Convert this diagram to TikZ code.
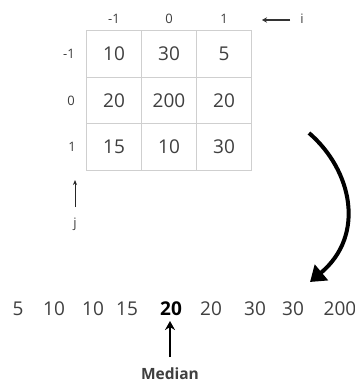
\documentclass[tikz,border=0pt]{standalone}
\usepackage{fontspec}
\setmainfont{Open Sans}
\usetikzlibrary{arrows.meta}
\definecolor{txt}{HTML}{3F3F3F}
\definecolor{gridc}{HTML}{CFCFCF}
\tikzset{
  cell/.style={draw=gridc, line width=0.8pt, minimum width=55pt, minimum height=46.5pt, inner sep=0pt, font=\fontsize{19}{20}\selectfont, text=txt},
  lab/.style={font=\fontsize{13}{14}\selectfont, text=txt, inner sep=0pt},
  num/.style={font=\fontsize{19}{20}\selectfont, text=txt, inner sep=0pt},
  thinarrow/.style={draw=black!85, line width=1pt, -{Stealth[length=5pt,width=4pt]}},
  iarrow/.style={draw=black!80, line width=2pt, -{Stealth[length=5pt,width=5.5pt]}},
}
\begin{document}
\begin{tikzpicture}[x=1pt,y=-1pt]
\useasboundingbox[fill=white] (0,0) rectangle (355,383);
% grid
\foreach \r in {0,1,2}{
  \foreach \c in {0,1,2}{
    \node[cell] (c\r\c) at ({114+55*\c},{54+46.5*\r}) {};
  }
}
\node[num] at (c00) {10}; \node[num] at (c01) {30}; \node[num] at (c02) {5};
\node[num] at (c10) {20}; \node[num] at (c11) {200}; \node[num] at (c12) {20};
\node[num] at (c20) {15}; \node[num] at (c21) {10}; \node[num] at (c22) {30};
% column labels
\node[lab] (h0) at (114,19) {-1};
\node[lab] (h1) at (169,19) {0};
\node[lab] (h2) at (224,19) {1};
% row labels
\node[lab] (r0) at (69,54) {-1};
\node[lab] (r1) at (71,100.5) {0};
\node[lab] (r2) at (72,147) {1};
% i arrow
\node[lab] (ilab) at (302,19) {i};
\coordinate (ia) at (290,20);
\coordinate (ib) at (262,20);
\draw[iarrow] (ia) -- (ib);
% j arrow
\node[lab] (jlab) at (75,224) {j};
\coordinate (ja) at (75,207);
\coordinate (jb) at (75,180);
\draw[thinarrow] (ja) -- (jb);
% curved arrow
\coordinate (ca) at (309,133);
\coordinate (cb) at (310,282);
\draw[line width=4pt, -{Triangle[length=15pt,width=20pt]}] (ca) .. controls (352,170) and (366,235) .. (cb);
% sorted list
\node[num] (s1) at (18,309) {5};
\node[num] (s2) at (54,309) {10};
\node[num] (s3) at (93,309) {10};
\node[num] (s4) at (127,309) {15};
\node[num, font=\fontsize{19}{20}\selectfont\bfseries, text=black] (s5) at (171,309) {20};
\node[num] (s6) at (211,309) {20};
\node[num] (s7) at (255,309) {30};
\node[num] (s8) at (293,309) {30};
\node[num] (s9) at (340,309) {200};
% median
\node[font=\fontsize{15.5}{16}\selectfont\bfseries, text=txt, inner sep=0pt] (med) at (170,374) {Median};
\coordinate (ma) at (170,357);
\coordinate (mb) at (170,321);
\draw[line width=2.6pt, -{Stealth[length=9pt,width=10pt]}] (ma) -- (mb);
\end{tikzpicture}
\end{document}
